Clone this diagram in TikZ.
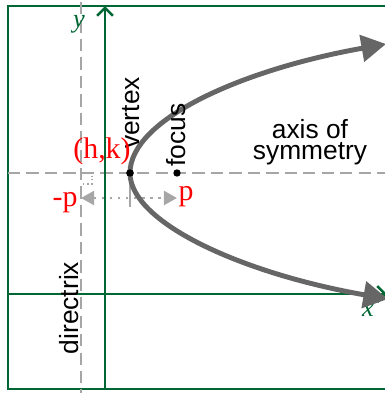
\documentclass[tikz,border=0pt]{standalone}
\usepackage{fontspec}
\setmainfont{Liberation Serif}
\setsansfont{Liberation Sans}
\usetikzlibrary{arrows.meta}
\definecolor{axgreen}{RGB}{0,102,51}
\definecolor{curvegray}{RGB}{102,102,102}
\definecolor{guidegray}{RGB}{166,166,166}
\tikzset{
  guide/.style={guidegray, line width=1.4pt, dash pattern=on 7pt off 3.5pt},
  axisline/.style={axgreen, line width=1.5pt, -{Straight Barb[length=4.5pt,width=9pt]}},
  arm/.style={curvegray, line width=2.8pt, -{Triangle[length=14pt,width=15pt]}},
  lbl/.style={font=\sffamily\fontsize{15}{12}\selectfont, inner sep=0pt},
  redlbl/.style={red, font=\fontsize{17}{17}\selectfont, inner sep=0pt},
  grnlbl/.style={axgreen, font=\itshape\fontsize{15}{15}\selectfont, inner sep=0pt},
  pt/.style={circle, fill=black, inner sep=0pt, minimum size=4.2pt},
}

\begin{document}
\begin{tikzpicture}[>=stealth, x=0.02cm, y=-0.02cm]
  \useasboundingbox (0,0) rectangle (385,393);
  \clip (0,0) rectangle (385,393);
  \draw[axgreen, line width=1.3pt] (8,6) rectangle (420,389);
  % directrix and axis of symmetry
  \coordinate (dirT) at (81,2);
  \coordinate (dirB) at (81,393);
  \coordinate (symL) at (8,173);
  \coordinate (symR) at (385,173);
  \draw[guide] (dirT) -- (dirB);
  \draw[guide] (symL) -- (symR);
  % coordinate axes
  \coordinate (xbeg) at (8,294);
  \coordinate (xend) at (387,294);
  \coordinate (ybeg) at (105,389);
  \coordinate (yend) at (105,6);
  \draw[axisline] (xbeg) -- (xend);
  \draw[axisline] (ybeg) -- (yend);
  \node[grnlbl] (ylbl) at (79,24) {y};
  \node[grnlbl] (xlbl) at (368,310) {x};
  % vertex, focus and p
  \node[pt] (V) at (130,173) {};
  \node[pt] (F) at (177,173) {};
  \coordinate (tick) at (130,207);
  \draw[guidegray, line width=1.5pt] (V.center) -- (tick);
  \coordinate (pL) at (81,198);
  \coordinate (pR) at (177,198);
  \draw[guidegray, line width=1.4pt, dash pattern=on 1.4pt off 3.2pt,
        {Triangle[length=7.5pt,width=8pt]}-{Triangle[length=7.5pt,width=8pt]}] (pL) -- (pR);
  \draw[guidegray, line width=0.8pt, dash pattern=on 0.8pt off 1.6pt] (83,184) -- (92,184) -- (92,176);
  % parabola
  \coordinate (top) at (386,44);
  \coordinate (bot) at (388,299);
  \draw[arm] (V.center) .. controls (130,120) and (240,70) .. (top);
  \draw[arm] (V.center) .. controls (130,222) and (240,273) .. (bot);
  \node[pt] at (V) {};
  % labels
  \node[lbl, rotate=90] (vlbl) at (131,113) {vertex};
  \node[lbl, rotate=90] (flbl) at (176,135) {focus};
  \node[lbl, rotate=90] (dlbl) at (69,308) {directrix};
  \node[lbl, align=center] (slbl) at (310,142) {axis of\\symmetry};
  \node[redlbl] (hk) at (102,151) {(h,k)};
  \node[redlbl] (mp) at (65,203) {-p};
  \node[redlbl] (pp) at (186,197) {p};
\end{tikzpicture}
\end{document}
